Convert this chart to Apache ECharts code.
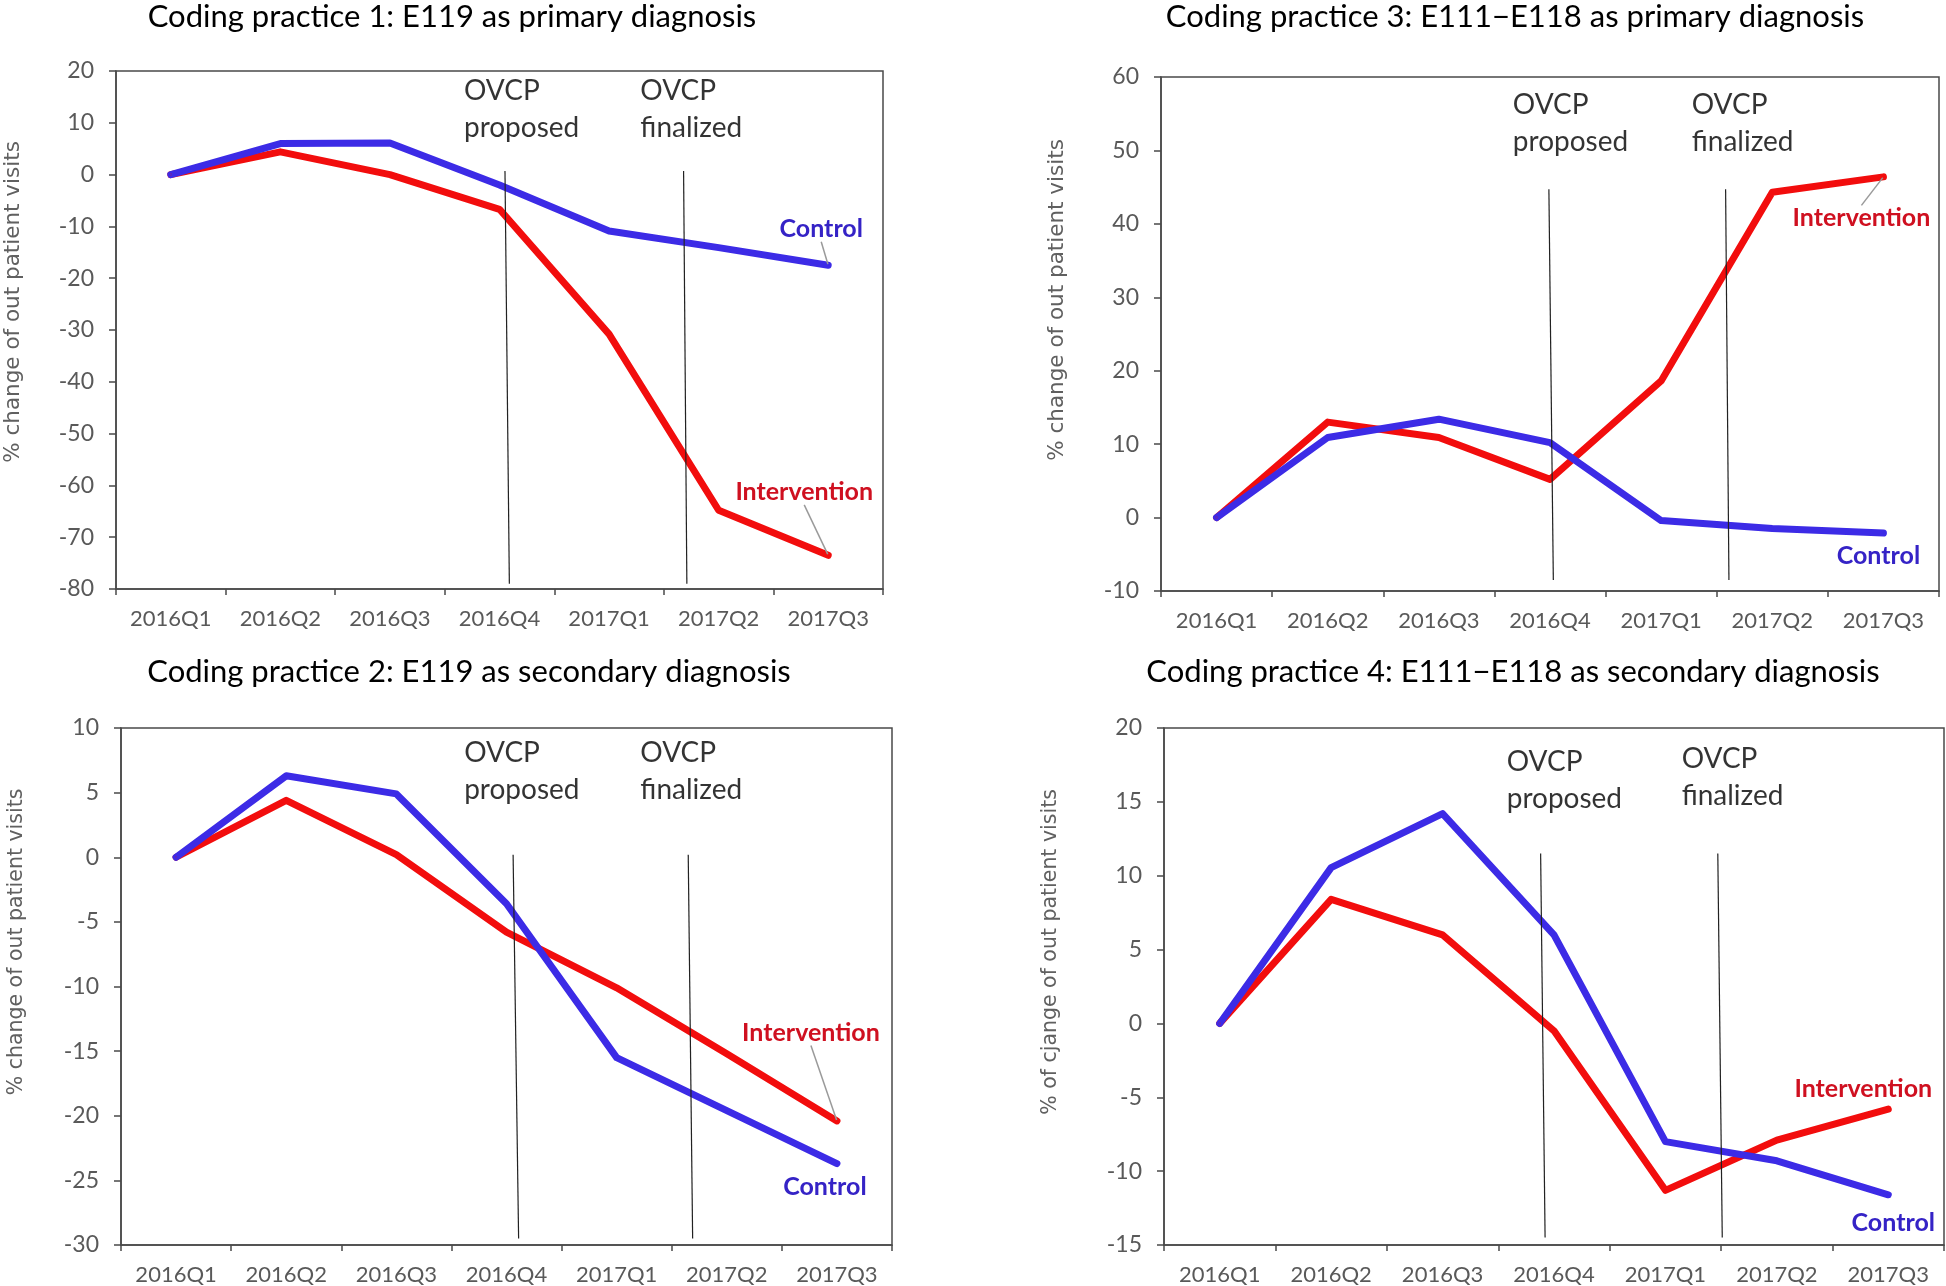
<!DOCTYPE html>
<html>
<head>
<meta charset="utf-8">
<script src="https://cdn.jsdelivr.net/npm/echarts@6/dist/echarts.min.js"></script>
<style>
html,body{margin:0;padding:0;background:#fff;}
#chart{width:1946px;height:1286px;}
</style>
</head>
<body>
<div id="chart"></div>
<script>
// ---------- data ----------
const categories = ['2016Q1','2016Q2','2016Q3','2016Q4','2017Q1','2017Q2','2017Q3'];

const titles = [
  'Coding practice 1: E119 as primary diagnosis',
  'Coding practice 2: E119 as secondary diagnosis',
  'Coding practice 3: E111\u2212E118 as primary diagnosis',
  'Coding practice 4: E111\u2212E118 as secondary diagnosis'
];
const yNames = [
  '% change of out patient visits',
  '% change of out patient visits',
  '% change of out patient visits',
  '% of cjange of out patient visits'
];

const p1Control      = [0, 6.0, 6.1, -2.0, -10.9, -14.1, -17.5];
const p1Intervention = [0, 4.4, 0.0, -6.7, -30.8, -64.8, -73.5];
const p2Control      = [0, 6.3, 4.9, -3.6, -15.5, -19.6, -23.7];
const p2Intervention = [0, 4.4, 0.2, -5.8, -10.1, -15.2, -20.4];
const p3Control      = [0, 10.9, 13.4, 10.2, -0.4, -1.5, -2.1];
const p3Intervention = [0, 13.0, 10.9, 5.2, 18.6, 44.3, 46.4];
const p4Control      = [0, 10.55, 14.2, 6.0, -8.0, -9.3, -11.6];
const p4Intervention = [0, 8.4, 6.0, -0.5, -11.3, -7.9, -5.8];

// y-axis ranges [min, max, interval]
const yRanges = [[-80, 20, 10], [-30, 10, 5], [-10, 60, 10], [-15, 20, 5]];

// event lines ([x position in category units, value] top and bottom)
const p1Proposed  = [[3.05, 0.7], [3.09, -79]];
const p1Finalized = [[4.68, 0.7], [4.71, -79]];
const p2Proposed  = [[3.06, 0.2], [3.11, -29.5]];
const p2Finalized = [[4.65, 0.2], [4.69, -29.5]];
const p3Proposed  = [[2.99, 44.7], [3.03, -8.5]];
const p3Finalized = [[4.58, 44.7], [4.61, -8.5]];
const p4Proposed  = [[2.88, 11.5], [2.92, -14.5]];
const p4Finalized = [[4.47, 11.5], [4.51, -14.5]];

// annotation text anchors (top-left of text block) in data units
const p1Notes = [[2.68, 19.6], [4.29, 19.6]];
const p2Notes = [[2.62, 9.45], [4.22, 9.45]];
const p3Notes = [[2.67, 58.7], [4.28, 58.7]];
const p4Notes = [[2.58, 18.9], [4.15, 19.15]];
const noteTexts = ['OVCP\nproposed', 'OVCP\nfinalized'];

// ---------- styling / layout ----------
const FONT = 'Lato, "Noto Sans", sans-serif';
const RED = '#f20d0d';
const BLUE = '#3c2be6';
const RED_TXT = '#cf1020';
const BLUE_TXT = '#3523c6';
const AXIS = '#4a4a4a';
const TICK_TXT = '#595959';

const grids = [
  {left: 116,  top: 71,  width: 767, height: 518},
  {left: 121,  top: 728, width: 771, height: 517},
  {left: 1161, top: 77,  width: 778, height: 514},
  {left: 1164, top: 728, width: 780, height: 517}
];
const titlePos = [[452, 17], [469, 672], [1515, 17], [1513, 672]];
const yNamePos = [[13, 302], [17, 942], [1057, 300], [1051, 952]];
const yNameSize = [21.5, 20.5, 21.5, 20.5];

// label offsets (center of label relative to end point) and leader flags
const endLabels = [
  {c: [-7, -36, true],  i: [-24, -63, true]},
  {c: [-12, 23, false], i: [-26, -88, true]},
  {c: [-5, 23, false],  i: [-22, 41, true]},
  {c: [5, 28, false],   i: [-25, -20, false]}
];

const panels = [
  {ctrl: p1Control, intv: p1Intervention, lines: [p1Proposed, p1Finalized], notes: p1Notes},
  {ctrl: p2Control, intv: p2Intervention, lines: [p2Proposed, p2Finalized], notes: p2Notes},
  {ctrl: p3Control, intv: p3Intervention, lines: [p3Proposed, p3Finalized], notes: p3Notes},
  {ctrl: p4Control, intv: p4Intervention, lines: [p4Proposed, p4Finalized], notes: p4Notes}
];

const option = {
  animation: false,
  backgroundColor: '#fff',
  grid: [], xAxis: [], yAxis: [], series: [], graphic: []
};

function endSeries(name, values, color, txtColor, off, gi) {
  const last = values.length - 1;
  return {
    type: 'line', name: name,
    xAxisIndex: gi * 2, yAxisIndex: gi,
    data: values.map((v, k) => k === last ? {
      value: v,
      label: {show: true, formatter: name, color: txtColor, fontFamily: FONT,
              fontWeight: 'bold', fontSize: 25, position: 'top'}
    } : v),
    symbol: 'circle', symbolSize: 2, showSymbol: true,
    itemStyle: {color: color},
    lineStyle: {color: color, width: 7, cap: 'round', join: 'round'},
    label: {show: false},
    labelLine: {show: off[2], lineStyle: {color: '#9a9a9a', width: 1.5}},
    labelLayout: function (p) {
      return {
        x: p.rect.x + p.rect.width / 2 + off[0],
        y: p.rect.y + p.rect.height / 2 + off[1],
        align: 'center', verticalAlign: 'middle'
      };
    },
    emphasis: {disabled: true},
    z: 3
  };
}

panels.forEach((pn, gi) => {
  const g = grids[gi];
  const yr = yRanges[gi];
  option.grid.push(Object.assign({show: true, borderColor: AXIS, borderWidth: 1.5,
                                  backgroundColor: 'transparent'}, g));
  option.xAxis.push({
    type: 'category', gridIndex: gi, data: categories, boundaryGap: true,
    axisLine: {show: true, onZero: false, lineStyle: {color: AXIS, width: 1.5}},
    axisTick: {show: true, interval: 0, length: 6, lineStyle: {color: AXIS, width: 1.5}},
    axisLabel: {color: TICK_TXT, fontFamily: FONT, fontSize: 22, margin: 19,
                interval: 0, hideOverlap: false}
  });
  option.xAxis.push({
    type: 'value', gridIndex: gi, min: -0.5, max: 6.5, show: false,
    axisLine: {onZero: false}
  });
  option.yAxis.push({
    type: 'value', gridIndex: gi, min: yr[0], max: yr[1], interval: yr[2],
    axisLine: {show: true, onZero: false, lineStyle: {color: AXIS, width: 1.5}},
    axisTick: {show: true, length: 7, lineStyle: {color: AXIS, width: 1.5}},
    splitLine: {show: false},
    axisLabel: {color: TICK_TXT, fontFamily: FONT, fontSize: 23, margin: 22}
  });

  option.series.push(endSeries('Intervention', pn.intv, RED, RED_TXT, endLabels[gi].i, gi));
  option.series.push(endSeries('Control', pn.ctrl, BLUE, BLUE_TXT, endLabels[gi].c, gi));

  pn.lines.forEach(ln => {
    option.series.push({
      type: 'line', xAxisIndex: gi * 2 + 1, yAxisIndex: gi,
      data: ln, symbol: 'none',
      lineStyle: {color: '#222', width: 1.2},
      emphasis: {disabled: true}, silent: true, z: 4
    });
  });

  option.series.push({
    type: 'scatter', xAxisIndex: gi * 2 + 1, yAxisIndex: gi,
    data: pn.notes.map((pt, k) => ({value: pt, name: noteTexts[k]})),
    symbolSize: 1, itemStyle: {color: 'rgba(0,0,0,0)'},
    label: {show: true, formatter: '{b}', position: [0, 0], align: 'left',
            verticalAlign: 'top', color: '#000', fontFamily: FONT,
            fontSize: 28, lineHeight: 37},
    emphasis: {disabled: true}, silent: true, z: 5
  });

  option.graphic.push({
    type: 'text', x: titlePos[gi][0], y: titlePos[gi][1],
    style: {text: titles[gi], font: '31px ' + FONT, fill: '#000',
            align: 'center', verticalAlign: 'middle',
            textAlign: 'center', textVerticalAlign: 'middle'}
  });
  option.graphic.push({
    type: 'text', x: yNamePos[gi][0], y: yNamePos[gi][1], rotation: Math.PI / 2,
    style: {text: yNames[gi], font: yNameSize[gi] + 'px "DejaVu Sans", Verdana, sans-serif',
            fill: '#606060',
            align: 'center', verticalAlign: 'middle',
            textAlign: 'center', textVerticalAlign: 'middle'}
  });
});

const chart = echarts.init(document.getElementById('chart'), null, {renderer: 'canvas'});
chart.setOption(option);
</script>
</body>
</html>
